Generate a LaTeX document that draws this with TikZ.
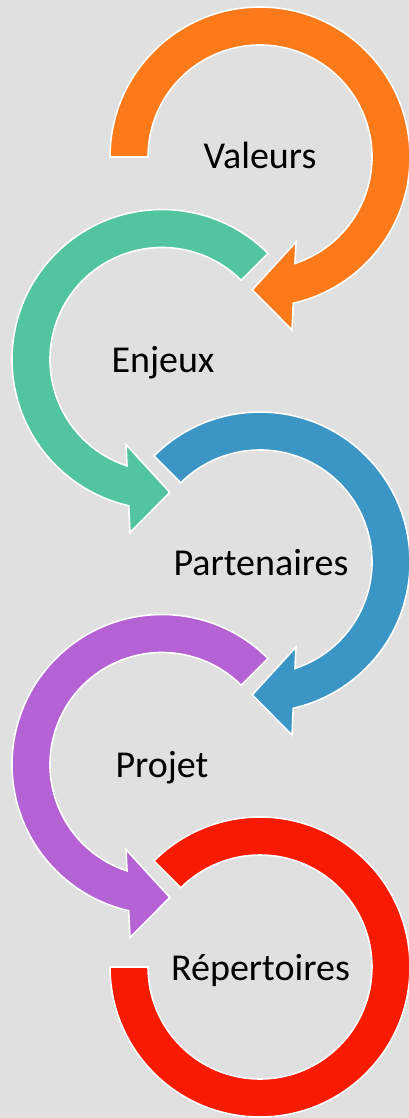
\documentclass[tikz,border=0pt]{standalone}
\usepackage{fontspec}
\setmainfont{Carlito}
\usetikzlibrary{positioning}
\definecolor{bg}{RGB}{224,224,224}
\definecolor{cvaleurs}{RGB}{252,122,26}
\definecolor{cenjeux}{RGB}{82,197,160}
\definecolor{cpartenaires}{RGB}{59,150,198}
\definecolor{cprojet}{RGB}{180,98,212}
\definecolor{crepertoires}{RGB}{249,26,2}
\tikzstyle{band} = [draw=white, line width=1.6pt, line join=miter]
\tikzstyle{stagename} = [anchor=base, text=black, inner sep=0pt, font=\fontsize{38}{40}\selectfont]

% #1 centre, #2 tail angle, #3 colour, #4 xscale
\newcommand{\roundarrow}[4]{
  \begin{scope}[shift={(#1)}, xscale=#4]
    \fill[band, fill=#3] (#2:150) arc[start angle=#2, end angle=-77.2, radius=150]
      -- (-79.5:175.9) -- (-93.4:133.2) -- (-67.05:92.3) -- (-71.8:112)
      arc[start angle=-71.8, end angle=#2, radius=112] -- cycle;
  \end{scope}
}

\begin{document}
\begin{tikzpicture}[x=1pt, y=1pt]
  \fill[bg] (0,0) rectangle (409,-1118);
  \useasboundingbox (0,0) rectangle (409,-1118);

  \coordinate (o1) at (260,-157);
  \coordinate (o2) at (162,-359.5);
  \coordinate (o3) at (260,-562);
  \coordinate (o4) at (162,-764.5);
  \coordinate (o5) at (260,-967);

  \roundarrow{o1}{180}{cvaleurs}{1}
  \roundarrow{o2}{135}{cenjeux}{-1}
  \roundarrow{o3}{135}{cpartenaires}{1}
  \roundarrow{o4}{135}{cprojet}{-1}
  % last one has no head
  \begin{scope}[shift={(o5)}]
    \fill[band, fill=crepertoires] (135:150) arc[start angle=135, end angle=-180, radius=150]
      -- (180:112) arc[start angle=-180, end angle=135, radius=112] -- cycle;
  \end{scope}

  \node (valeurs) [stagename] at (260,-168) {Valeurs};
  \node (enjeux) [stagename] at (163,-372) {Enjeux};
  \node (partenaires) [stagename] at (261,-575) {Partenaires};
  \node (projet) [stagename] at (162,-777) {Projet};
  \node (repertoires) [stagename] at (260.5,-980) {Répertoires};
\end{tikzpicture}
\end{document}
